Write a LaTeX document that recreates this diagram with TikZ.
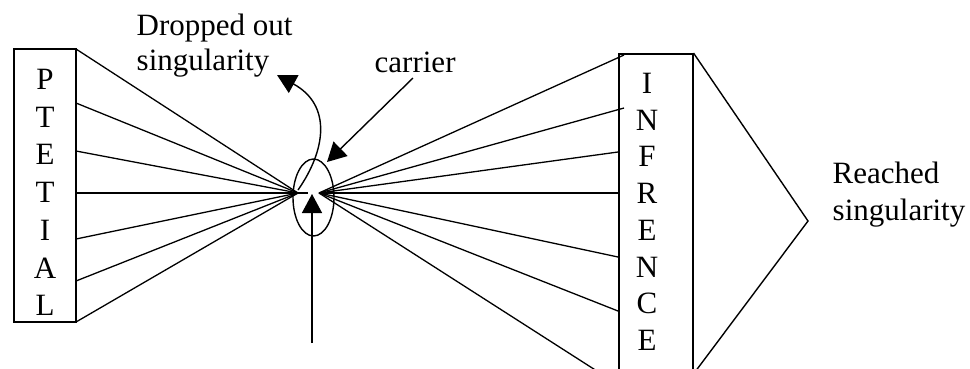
\documentclass[tikz,border=0pt]{standalone}
\usepackage{fontspec}
\setmainfont{Liberation Serif}
\usetikzlibrary{arrows.meta,shapes.geometric}
\begin{document}
\begin{tikzpicture}[x=1pt,y=-1pt,line width=1.4pt,
  lbl/.style={font=\fontsize{31}{36}\selectfont,inner sep=0pt,anchor=base west},
  letter/.style={font=\fontsize{31}{36}\selectfont,inner sep=0pt,anchor=base},
  boxstyle/.style={draw,line width=1.5pt,inner sep=0pt},
  ray/.style={line width=1.3pt},
  bigarrow/.style={-{Triangle[length=19pt,width=20pt]},line width=1.4pt}]
\useasboundingbox (0,0) rectangle (970,368);
\clip (0,0) rectangle (970,368);
% boxes
\node[boxstyle,minimum width=62pt,minimum height=273pt] (pot) at (45,185.5) {};
\node[boxstyle,minimum width=74pt,minimum height=330pt,anchor=north west] (inf) at (618,53) {};
\foreach \t [count=\i] in {P,T,E,T,I,A,L}
  \node[letter] (pl\i) at (45,{89.5+37.7*(\i-1)}) {\t};
\foreach \t [count=\i] in {I,N,F,R,E,N,C,E}
  \node[letter] (il\i) at (647,{93.5+36.7*(\i-1)}) {\t};
% foci
\coordinate (fl) at (298,193);
\coordinate (fr) at (319,193);
\coordinate (lh) at (308,193);
% left rays
\foreach \y [count=\i] in {49,103,151,239,281,322}{
  \coordinate (ls\i) at (76,\y);
  \draw[ray] (ls\i) -- (fl);
}
\coordinate (lsh) at (76,193);
\draw[ray] (lsh) -- (lh);
% right rays
\foreach \xx/\y [count=\i] in {624/55,624/108,618/152,618/193,618/257,618/311,600/373}{
  \coordinate (rs\i) at (\xx,\y);
  \draw[ray] (fr) -- (rs\i);
}
% carrier ellipse
\node[draw,ellipse,minimum width=41pt,minimum height=77pt,inner sep=0pt] (car) at (313.5,197.5) {};
% labels
\node[lbl] (drop) at (136,35) {Dropped out};
\node[lbl] (drop2) at (136,70) {singularity};
\node[lbl] (carrier) at (374,72) {carrier};
\node[lbl] (reach) at (832,183) {Reached};
\node[lbl] (reach2) at (832,220) {singularity};
% arrows
\coordinate (bb) at (312,343);
\coordinate (bt) at (312,194);
\draw[bigarrow] (bb) -- (bt);
\coordinate (cs) at (413,78);
\coordinate (ct) at (327,162);
\draw[bigarrow] (cs) -- (ct);
\coordinate (ds) at (298,190);
\coordinate (dt) at (277,75);
\draw[bigarrow] (ds) .. controls (326,150) and (332,105) .. (dt);
% reached bracket
\coordinate (rt) at (808,221);
\coordinate (rb) at (689,380);
\draw (inf.north east) -- (rt) -- (rb);
\end{tikzpicture}
\end{document}
